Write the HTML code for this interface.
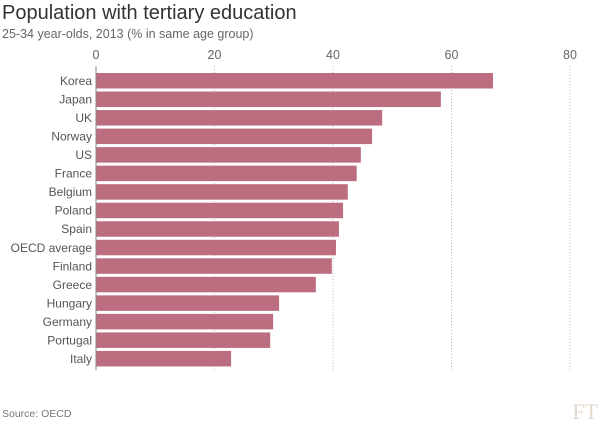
<!DOCTYPE html>
<html><head><meta charset="utf-8"><style>
body{margin:0;background:#fff;}
svg{display:block;font-family:"Liberation Sans",sans-serif;}
</style></head><body>
<svg width="600" height="422" viewBox="0 0 600 422">
<rect width="600" height="422" fill="#fff"/>
<text x="2" y="19" font-size="20" fill="#333">Population with tertiary education</text>
<text x="2" y="38" font-size="12.5" fill="#666">25-34 year-olds, 2013 (% in same age group)</text>
<g font-size="12.5" fill="#666" text-anchor="middle">
<text x="96" y="59">0</text><text x="214.5" y="59">20</text><text x="333" y="59">40</text><text x="451.5" y="59">60</text><text x="570" y="59">80</text>
</g>
<g stroke="#bbb" stroke-width="1" stroke-dasharray="1,2">
<line x1="214.5" y1="66" x2="214.5" y2="372"/><line x1="333" y1="66" x2="333" y2="372"/><line x1="451.5" y1="66" x2="451.5" y2="372"/><line x1="570" y1="66" x2="570" y2="372"/>
</g>
<g fill="#bd6d80" id="bars"></g>
<g font-size="12" fill="#555" text-anchor="end" id="labels"></g>
<line x1="96" y1="66" x2="96" y2="370" stroke="#888" stroke-width="1"/>
<text x="2" y="417" font-size="10.5" fill="#777">Source: OECD</text>
<text x="598" y="419" font-size="22" fill="#e3d8cc" text-anchor="end" font-family="Liberation Serif,serif">FT</text>
<script>
var d=[["Korea",67],["Japan",58.2],["UK",48.3],["Norway",46.6],["US",44.7],["France",44],["Belgium",42.5],["Poland",41.7],["Spain",41],["OECD average",40.5],["Finland",39.8],["Greece",37.1],["Hungary",30.9],["Germany",29.9],["Portugal",29.4],["Italy",22.8]];
var b=document.getElementById("bars"),l=document.getElementById("labels"),ns="http://www.w3.org/2000/svg";
d.forEach(function(r,i){var y=73+i*18.53;var e=document.createElementNS(ns,"rect");e.setAttribute("x",96);e.setAttribute("y",y);e.setAttribute("width",r[1]*5.925);e.setAttribute("height",15.5);b.appendChild(e);
var t=document.createElementNS(ns,"text");t.setAttribute("x",92);t.setAttribute("y",y+12);t.textContent=r[0];l.appendChild(t);});
</script>
</svg>
</body></html>
